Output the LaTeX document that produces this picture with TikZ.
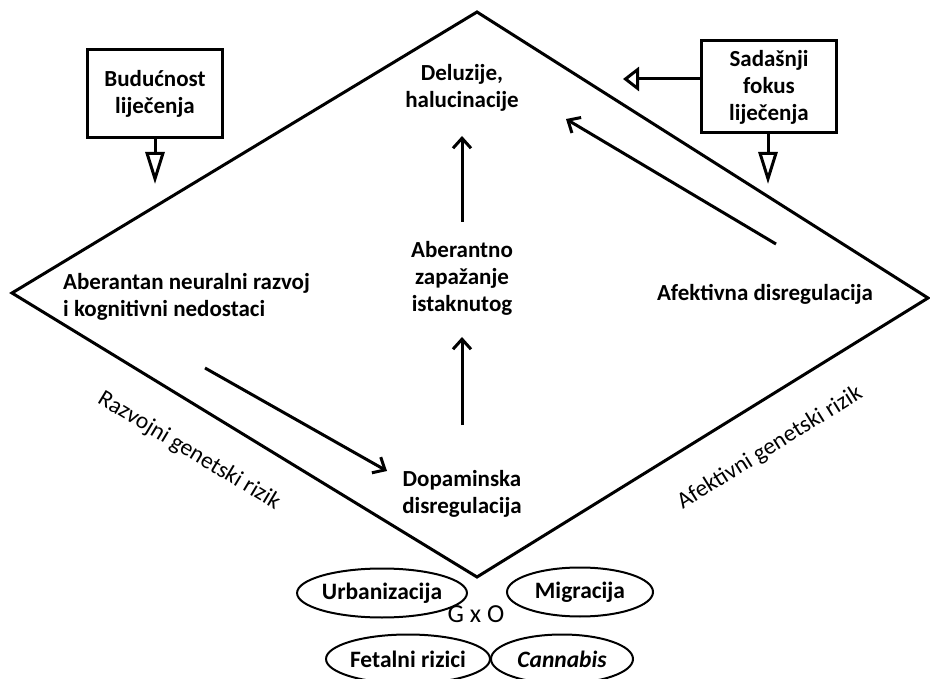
\documentclass[tikz,border=0pt]{standalone}
\usepackage{fontspec}
\setmainfont{Carlito}
\usetikzlibrary{arrows.meta,shapes.geometric}

\tikzset{
    lbl/.style={font=\bfseries\fontsize{23}{27}\selectfont, align=center, inner sep=0pt},
    box/.style={draw, line width=3pt, align=center, font=\bfseries\fontsize{23}{27}\selectfont,
        minimum width=135pt, minimum height=88pt, inner sep=2pt},
    riz/.style={font=\fontsize{23.5}{27}\selectfont, inner sep=0pt},
    faktor/.style={draw, ellipse, line width=2pt, minimum width=146pt, minimum height=49pt,
        font=\bfseries\fontsize{23.5}{27}\selectfont, inner sep=0pt},
    tok/.style={line width=3pt, -{Straight Barb[length=10pt, width=18pt]}},
    fokus/.style={line width=3pt, -{Triangle[open, length=32pt, width=19pt, line width=3pt]}},
}

\begin{document}
\begin{tikzpicture}[x=1pt, y=-1pt]
    \useasboundingbox (0,0) rectangle (930,679);

    % Romb
    \coordinate (gore) at (477,12);
    \coordinate (lijevo) at (12,293);
    \coordinate (dolje) at (477,577);
    \coordinate (desno) at (928,298);
    \draw[line width=3pt, line join=miter] (gore) -- (desno) -- (dolje) -- (lijevo) -- cycle;

    % Tekstovi u rombu
    \node[lbl] (deluzije) at (462,88) {Deluzije,\\halucinacije};
    \node[lbl] (zapazanje) at (462,278) {Aberantno\\zapažanje\\istaknutog};
    \node[lbl] (dopamin) at (462,494) {Dopaminska\\disregulacija};
    \node[lbl, align=left, anchor=west] (razvoj) at (63,297) {Aberantan neuralni razvoj\\i kognitivni nedostaci};
    \node[lbl] (afekt) at (765,294) {Afektivna disregulacija};

    % Strelice
    \coordinate (z1) at (462,222);
    \coordinate (z2) at (462,136);
    \coordinate (d1) at (462,425);
    \coordinate (d2) at (462,337);
    \coordinate (l1) at (205,368);
    \coordinate (l2) at (387,471);
    \coordinate (a1) at (776,244);
    \coordinate (a2) at (566,119);
    \draw[tok] (z1) -- (z2);
    \draw[tok] (d1) -- (d2);
    \draw[tok] (l1) -- (l2);
    \draw[tok] (a1) -- (a2);

    % Fokus lijecenja
    \node[box] (buducnost) at (155,94) {Budućnost\\liječenja};
    \node[box, minimum height=92pt] (sadasnji) at (769,87) {Sadašnji\\fokus\\liječenja};
    \coordinate (b1) at (155,184);
    \coordinate (s1) at (768,184);
    \coordinate (s2) at (623,79);
    \draw[fokus] (buducnost.south) -- (b1);
    \draw[fokus] (sadasnji.south -| s1) -- (s1);
    \draw[line width=3pt, -{Triangle[open, length=16pt, width=24pt, line width=3pt]}] (sadasnji.west |- s2) -- (s2);

    % Genetski rizik
    \node[riz, rotate=-31] (rrizik) at (189,451) {Razvojni genetski rizik};
    \node[riz, rotate=32] (arizik) at (770,448) {Afektivni genetski rizik};

    % G x O
    \node[faktor, minimum width=150pt] (urban) at (382,593) {Urbanizacija};
    \node[faktor] (migr) at (580,592) {Migracija};
    \node[faktor, minimum width=143pt] (fetal) at (408,659) {Fetalni rizici};
    \node[faktor, minimum width=142pt] (cann) at (562,659) {\itshape Cannabis};
    \node[font=\fontsize{26}{30}\selectfont, inner sep=0pt] (gxo) at (476,614) {G x O};
\end{tikzpicture}
\end{document}
